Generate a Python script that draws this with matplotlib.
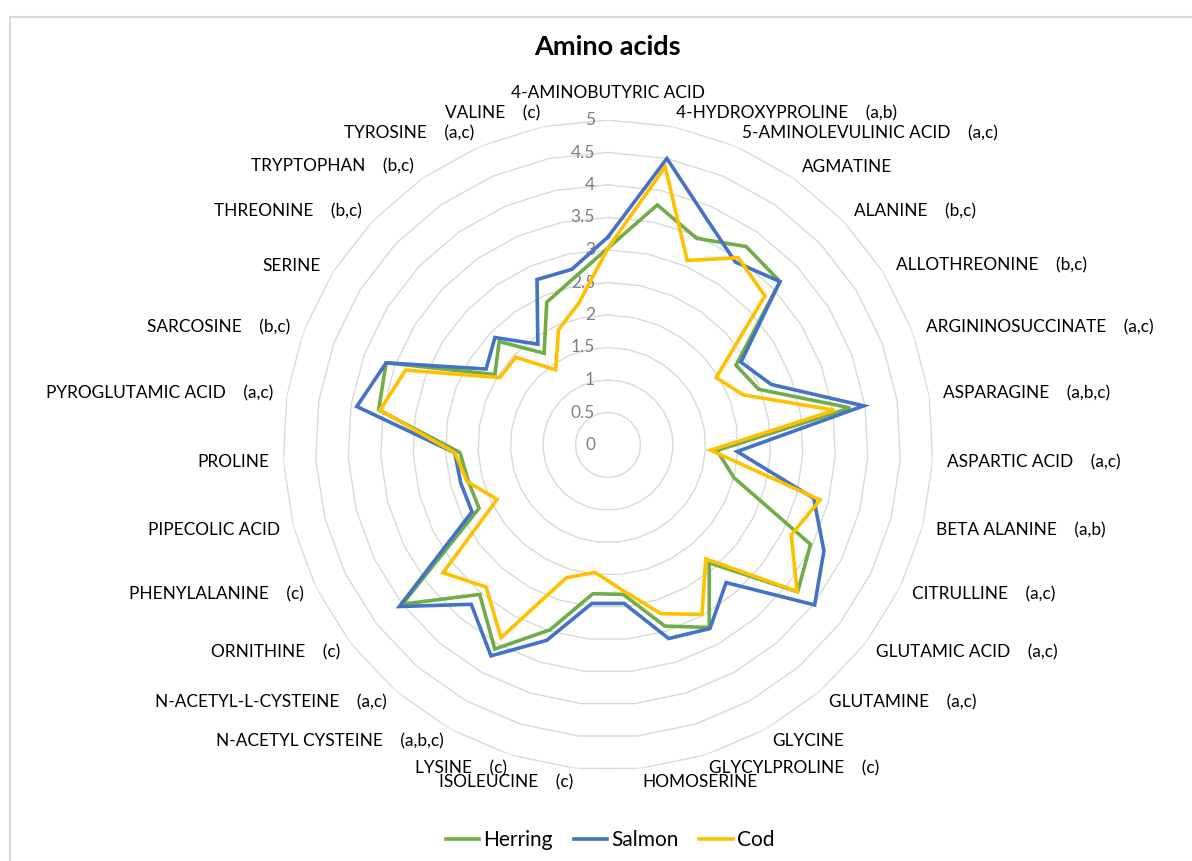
import numpy as np
import matplotlib
matplotlib.use("Agg")
import matplotlib.pyplot as plt
from matplotlib.lines import Line2D
from matplotlib.patches import Rectangle
import matplotlib.transforms as mtransforms

plt.rcParams['font.family'] = ['Lato', 'DejaVu Sans']

# ---- data -------------------------------------------------------------
categories = [
    "4-AMINOBUTYRIC ACID", "4-HYDROXYPROLINE    (a,b)", "5-AMINOLEVULINIC ACID    (a,c)",
    "AGMATINE", "ALANINE    (b,c)", "ALLOTHREONINE    (b,c)", "ARGININOSUCCINATE    (a,c)",
    "ASPARAGINE    (a,b,c)", "ASPARTIC ACID    (a,c)", "BETA ALANINE    (a,b)",
    "CITRULLINE    (a,c)", "GLUTAMIC ACID    (a,c)", "GLUTAMINE    (a,c)", "GLYCINE",
    "GLYCYLPROLINE    (c)", "HOMOSERINE", "ISOLEUCINE    (c)", "LYSINE    (c)",
    "N-ACETYL CYSTEINE    (a,b,c)", "N-ACETYL-L-CYSTEINE    (a,c)", "ORNITHINE    (c)",
    "PHENYLALANINE    (c)", "PIPECOLIC ACID", "PROLINE", "PYROGLUTAMIC ACID    (a,c)",
    "SARCOSINE    (b,c)", "SERINE", "THREONINE    (b,c)", "TRYPTOPHAN    (b,c)",
    "TYROSINE    (a,c)", "VALINE    (c)",
]

herring = [3.03, 3.77, 3.46, 3.72, 3.65, 2.32, 2.47, 3.77, 1.68, 2.00, 3.47,
           3.69, 2.39, 3.21, 2.92, 2.31, 2.30, 2.98, 3.59, 3.03, 4.00, 2.21,
           2.22, 2.28, 3.57, 3.64, 2.05, 2.31, 1.72, 2.39, 2.62]
salmon = [3.20, 4.50, 3.81, 3.43, 3.65, 2.41, 2.68, 3.98, 1.99, 3.27, 3.70,
          4.02, 2.79, 3.23, 3.12, 2.45, 2.45, 3.15, 3.71, 3.23, 4.06, 2.33,
          2.34, 2.36, 3.91, 3.64, 2.21, 2.40, 1.89, 2.77, 2.76]
cod = [3.03, 4.37, 3.09, 3.51, 3.33, 1.96, 2.22, 3.53, 1.58, 3.37, 3.14,
       3.68, 2.31, 2.98, 2.72, 2.25, 1.97, 2.14, 3.39, 2.88, 3.21, 1.90,
       2.24, 2.36, 3.55, 3.32, 1.96, 1.96, 1.41, 1.93, 2.23]

series_names = ["Herring", "Salmon", "Cod"]
series_colors = ["#70AD47", "#4472C4", "#FFC000"]
tick_values = [0, 0.5, 1, 1.5, 2, 2.5, 3, 3.5, 4, 4.5, 5]

# ---- figure -------------------------------------------------------------
W, H = 1192, 861
fig = plt.figure(figsize=(W / 100, H / 100), dpi=100)
fig.patch.set_facecolor("white")

# chart-area frame
fig.add_artist(Rectangle((10 / W, -0.2), 1.5, 1.2 - 17 / H, transform=fig.transFigure,
                         fill=False, edgecolor="#d9d9d9", linewidth=1.5))

cx, cy, R = 608, 445, 325
ax = fig.add_axes([(cx - R) / W, (H - cy - R) / H, 2 * R / W, 2 * R / H],
                  projection="polar")
ax.set_theta_zero_location("N")
ax.set_theta_direction(-1)
ax.set_ylim(0, 5)
ax.grid(False)
ax.set_xticks([])
ax.set_yticks([])
ax.spines["polar"].set_visible(False)
ax.set_facecolor("none")

n = len(categories)
angles = np.arange(n) * 2 * np.pi / n
closed = np.append(angles, angles[0])

# polygon gridlines
for v in tick_values[1:]:
    ax.plot(closed, [v] * (n + 1), color="#d9d9d9", lw=1.0, zorder=1)

# value axis labels
off = mtransforms.offset_copy(ax.transData, fig=fig, x=-13, y=0, units="dots")
for v in tick_values:
    ax.text(0, v, f"{v:g}", transform=off, ha="right", va="center",
            fontsize=12.5, color="#7f7f7f", zorder=2)

# series
for name, vals, col in zip(series_names, [herring, salmon, cod], series_colors):
    ax.plot(closed, list(vals) + [vals[0]], color=col, lw=2.6, zorder=3,
            solid_joinstyle="miter", label=name)

# category labels
for i, (a, lab) in enumerate(zip(angles, categories)):
    deg = np.degrees(a)
    if i == 0:
        ax.text(a, 352 / 65, lab, ha="center", va="center", fontsize=12.4,
                color="#000000", clip_on=False)
        continue
    ha = "left" if deg < 180 else "right"
    ax.text(a, 339 / 65, lab, ha=ha, va="center", fontsize=12.4,
            color="#000000", clip_on=False)

# title
fig.text(607 / W, 1 - 47 / H, "Amino acids", ha="center", va="center",
         fontsize=19.5, fontweight="bold", color="#000000")

# legend
handles = [Line2D([], [], color=c, lw=2.6) for c in series_colors]
fig.legend(handles, series_names, loc="center", bbox_to_anchor=(610 / W, 1 - 840 / H),
           ncol=3, frameon=False, fontsize=15, handlelength=1.6, handletextpad=0.2,
           columnspacing=1.0)

fig.savefig("out.png", dpi=100, facecolor="white")
